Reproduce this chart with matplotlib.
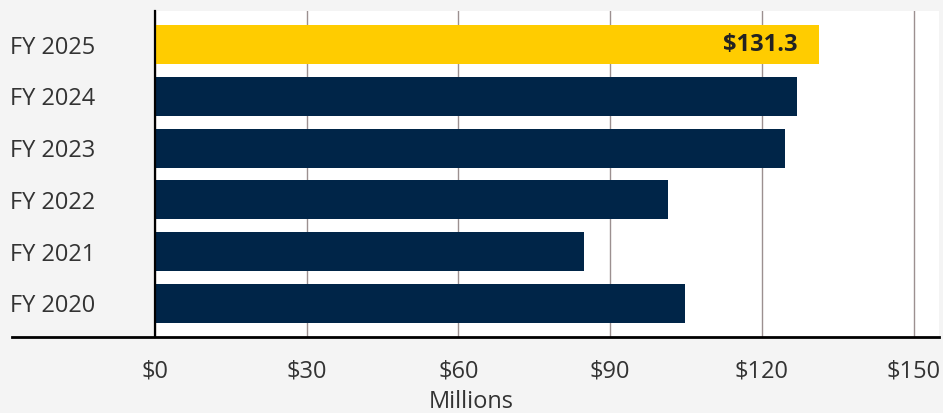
import matplotlib.pyplot as plt
from matplotlib.lines import Line2D

plt.rcParams['font.family'] = ['Open Sans', 'DejaVu Sans']

years = ['FY 2020', 'FY 2021', 'FY 2022', 'FY 2023', 'FY 2024', 'FY 2025']
values = [104.7, 84.8, 101.4, 124.6, 126.9, 131.3]
colors = ['#002548'] * 5 + ['#ffcc00']
xticks = [0, 30, 60, 90, 120, 150]

fig = plt.figure(figsize=(9.43, 4.13), dpi=100, facecolor='#f4f4f4')
ax = fig.add_axes([155 / 943, 1 - 337 / 413, (939 - 155) / 943, (337 - 11) / 413])
ax.set_facecolor('white')

pos = range(len(years))
ax.barh(pos, values, height=0.75, color=colors, zorder=2)

ax.set_xlim(0, 155)
ax.set_ylim(-0.65, len(years) - 0.35)
ax.set_xticks(xticks)
ax.set_xticklabels(['$' + str(t) for t in xticks], fontsize=17, color='#333333')
ax.set_yticks(list(pos))
ax.set_yticklabels(years, fontsize=17, color='#333333')
ax.tick_params(axis='both', length=0)
ax.tick_params(axis='x', pad=16)
ax.tick_params(axis='y', pad=0)
for lbl in ax.get_yticklabels():
    lbl.set_horizontalalignment('left')
    lbl.set_x(-145 / 784)

ax.grid(axis='x', color='#9c9090', linewidth=1, zorder=1)
ax.grid(axis='y', visible=False)
for s in ['top', 'right', 'bottom']:
    ax.spines[s].set_visible(False)
ax.spines['left'].set_color('black')
ax.spines['left'].set_linewidth(1.6)
ax.spines['left'].set_zorder(3)

# value label on the latest year
ax.text(values[-1] - 4.2, pos[-1], '$' + str(values[-1]), ha='right', va='center',
        fontsize=17, fontweight='bold', color='#222222', zorder=3)

# baseline running past the axes to the left
fig.add_artist(Line2D([12 / 943, 939 / 943], [1 - 337 / 413] * 2, color='black',
                      linewidth=2, transform=fig.transFigure))

fig.text(471 / 943, 1 - 402 / 413, 'Millions', ha='center', va='center',
         fontsize=17, color='#333333')

fig.savefig('out.png', dpi=100, facecolor=fig.get_facecolor())
